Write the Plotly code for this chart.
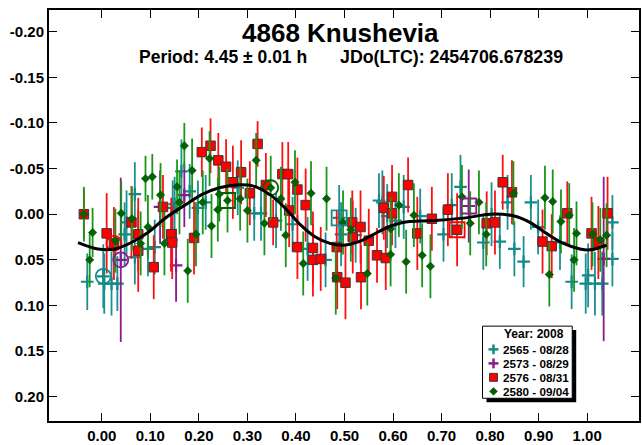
import plotly.graph_objects as go

# ---------------- data (phase, delta-mag, error) ----------------
teal_x = [-0.030, 0.003, 0.005, 0.020, 0.032, 0.047, 0.051, 0.068, 0.068, 0.095, 0.109, 0.146, 0.150,
          0.164, 0.181, 0.198, 0.214, 0.280, 0.314, 0.328, 0.359, 0.393, 0.424, 0.461, 0.489, 0.493,
          0.523, 0.571, 0.578, 0.588, 0.605, 0.622, 0.656, 0.704, 0.721, 0.739, 0.786, 0.803, 0.820,
          0.836, 0.850, 0.869, 0.884, 0.899, 0.944, 0.968, 0.997, 1.002, 1.016, 1.031, 1.052, 1.052]
teal_y = [0.074, 0.068, 0.076, 0.076, 0.076, 0.022, 0.009, -0.022, 0.047, 0.038, 0.036, -0.007, -0.011,
          -0.047, -0.025, -0.007, -0.013, -0.029, -0.001, -0.001, 0.007, 0.011, 0.038, 0.050, 0.004, 0.022,
          0.023, -0.015, -0.013, 0.002, 0.007, -0.008, 0.002, 0.022, -0.010, -0.030, 0.031, 0.000, 0.030,
          -0.013, 0.038, 0.052, -0.013, 0.014, 0.031, 0.074, 0.076, 0.067, 0.076, 0.076, 0.009, 0.049]
teal_e = [0.031, 0.035, 0.033, 0.035, 0.030, 0.035, 0.035, 0.035, 0.030, 0.030, 0.030, 0.030, 0.030,
          0.035, 0.030, 0.030, 0.030, 0.030, 0.030, 0.030, 0.030, 0.030, 0.035, 0.030, 0.036, 0.035,
          0.030, 0.030, 0.035, 0.035, 0.030, 0.035, 0.030, 0.030, 0.035, 0.035, 0.030, 0.035, 0.030,
          0.030, 0.030, 0.028, 0.030, 0.030, 0.030, 0.030, 0.033, 0.035, 0.035, 0.035, 0.030, 0.030]

purple_x = [0.039, 0.120, 0.143, 0.153, 0.170, 0.756, 1.034]
purple_y = [0.050, -0.008, 0.028, 0.056, -0.021, -0.009, 0.049]
purple_e = [0.090, 0.040, 0.035, 0.040, 0.035, 0.040, 0.090]

red_x = [-0.037, 0.010, 0.025, 0.061, 0.075, 0.075, 0.107, 0.126, 0.143, 0.145, 0.190, 0.206, 0.224,
         0.240, 0.256, 0.270, 0.287, 0.305, 0.321, 0.338, 0.353, 0.372, 0.384, 0.386, 0.403, 0.403,
         0.420, 0.435, 0.435, 0.451, 0.484, 0.485, 0.502, 0.516, 0.517, 0.533, 0.534, 0.550, 0.567,
         0.585, 0.581, 0.598, 0.598, 0.631, 0.650, 0.680, 0.713, 0.732, 0.793, 0.810, 0.826, 0.845,
         0.908, 0.927, 0.959, 1.009, 1.023, 1.042]
red_y = [0.000, 0.021, 0.032, 0.009, 0.022, 0.040, 0.058, -0.008, 0.022, 0.031, 0.026, -0.068, -0.075,
         -0.059, -0.052, -0.035, -0.046, -0.023, -0.077, -0.032, 0.009, -0.044, -0.044, -0.004, -0.027, 0.036,
         -0.010, 0.037, 0.050, 0.049, 0.036, 0.069, 0.075, 0.009, 0.025, 0.014, 0.069, 0.029, 0.045,
         0.048, -0.007, -0.019, -0.001, -0.032, 0.021, 0.005, -0.005, 0.017, 0.010, 0.009, -0.035, -0.024,
         0.030, 0.035, -0.001, 0.021, 0.031, -0.001]
red_e = [0.027, 0.044, 0.040, 0.040, 0.040, 0.045, 0.035, 0.035, 0.040, 0.040, 0.040, 0.027, 0.030,
         0.030, 0.030, 0.040, 0.035, 0.035, 0.025, 0.035, 0.025, 0.035, 0.035, 0.040, 0.035, 0.035,
         0.040, 0.040, 0.040, 0.035, 0.040, 0.035, 0.040, 0.035, 0.040, 0.040, 0.035, 0.035, 0.030,
         0.035, 0.035, 0.035, 0.035, 0.030, 0.040, 0.035, 0.040, 0.040, 0.035, 0.035, 0.030, 0.035,
         0.035, 0.035, 0.035, 0.040, 0.040, 0.040]

green_x = [-0.037, -0.025, -0.019, 0.028, 0.040, 0.062, 0.080, 0.090, 0.095, 0.104, 0.121, 0.129, 0.155,
           0.160, 0.170, 0.177, 0.186, 0.194, 0.208, 0.222, 0.226, 0.239, 0.242, 0.259, 0.285, 0.300,
           0.318, 0.335, 0.348, 0.369, 0.379, 0.398, 0.415, 0.431, 0.463, 0.482, 0.497, 0.513, 0.547,
           0.595, 0.595, 0.612, 0.627, 0.643, 0.660, 0.677, 0.742, 0.759, 0.777, 0.792, 0.848, 0.913,
           0.922, 0.929, 0.946, 0.963, 0.973, 0.978, 1.011, 1.027, 1.040]
green_y = [0.000, 0.050, 0.020, 0.029, -0.001, 0.005, 0.032, -0.039, 0.014, -0.041, -0.021, 0.032, -0.030,
           -0.013, -0.075, 0.062, -0.048, 0.022, -0.013, -0.061, 0.013, -0.005, -0.022, -0.015, -0.017, -0.004,
           -0.059, 0.010, -0.029, -0.017, 0.023, -0.035, 0.054, -0.023, -0.017, 0.070, 0.009, 0.017, 0.065,
           0.044, 0.016, -0.010, 0.052, 0.001, 0.045, 0.057, -0.019, 0.010, -0.013, 0.022, -0.023, -0.018,
           0.066, -0.014, 0.008, 0.001, 0.050, 0.021, 0.022, 0.028, 0.023]
green_e = [0.030, 0.030, 0.027, 0.035, 0.035, 0.035, 0.035, 0.025, 0.035, 0.025, 0.035, 0.035, 0.030,
           0.035, 0.025, 0.035, 0.035, 0.035, 0.035, 0.030, 0.035, 0.035, 0.030, 0.035, 0.035, 0.035,
           0.030, 0.035, 0.035, 0.035, 0.035, 0.035, 0.035, 0.035, 0.035, 0.040, 0.035, 0.035, 0.035,
           0.035, 0.035, 0.035, 0.035, 0.035, 0.035, 0.035, 0.035, 0.035, 0.035, 0.035, 0.035, 0.035,
           0.035, 0.035, 0.035, 0.035, 0.035, 0.035, 0.035, 0.035, 0.035]

# session start / end markers (circle = first, square = last)
first_x = [0.003, 0.039, 0.025, 0.348]
first_y = [0.068, 0.050, 0.032, -0.029]
last_x = [0.489, 0.756, 0.732, 0.259]
last_y = [0.004, -0.009, 0.017, -0.015]

# Fourier fit curve
fit_x = [-0.049, -0.008, 0.027, 0.061, 0.095, 0.129, 0.174, 0.208, 0.242, 0.277, 0.311, 0.345, 0.379,
         0.410, 0.440, 0.470, 0.495, 0.530, 0.560, 0.590, 0.620, 0.680, 0.750, 0.800, 0.850, 0.882,
         0.916, 0.951, 0.985, 1.006, 1.040]
fit_y = [0.031, 0.038, 0.038, 0.031, 0.020, 0.005, -0.011, -0.022, -0.029, -0.032, -0.031, -0.022, -0.006,
         0.012, 0.025, 0.032, 0.034, 0.030, 0.022, 0.014, 0.009, 0.007, 0.004, 0.000, 0.002, 0.009,
         0.021, 0.032, 0.038, 0.039, 0.034]

legend_title = "Year: 2008"
session_names = ["2565 - 08/28", "2573 - 08/29", "2576 - 08/31", "2580 - 09/04"]
session_colors = ["#138a8a", "#8b1a8b", "#ff0000", "#006400"]
bar_colors = ["#1a9090", "#8b1a8b", "#ff1010", "#1a961a"]

x_ticks = [0.0, 0.1, 0.2, 0.3, 0.4, 0.5, 0.6, 0.7, 0.8, 0.9, 1.0]
x_ticktext = ["0.00", "0.10", "0.20", "0.30", "0.40", "0.50", "0.60", "0.70", "0.80", "0.90", "1.00"]
y_ticks = [-0.20, -0.15, -0.10, -0.05, 0.0, 0.05, 0.10, 0.15, 0.20]
y_ticktext = ["-0.20", "-0.15", "-0.10", "-0.05", "0.00", "0.05", "0.10", "0.15", "0.20"]

FONT = "Arial, Liberation Sans, sans-serif"

# ---------------- figure ----------------
W, H = 642, 445
ML, MR, MT, MB = 49, 1, 10, 19
PW, PH = W - ML - MR, H - MT - MB

fig = go.Figure()

series = [
    (teal_x, teal_y, teal_e, dict(symbol="cross-thin", size=9, line=dict(color=session_colors[0], width=2.2))),
    (purple_x, purple_y, purple_e, dict(symbol="cross-thin", size=9, line=dict(color=session_colors[1], width=2.2))),
    (red_x, red_y, red_e, dict(symbol="square", size=9.5, color=session_colors[2], line=dict(color="#383838", width=1))),
    (green_x, green_y, green_e, dict(symbol="diamond", size=6.5, color=session_colors[3], line=dict(color="#004d00", width=0.5))),
]
for i, (xs, ys, es, mk) in enumerate(series):
    fig.add_trace(go.Scatter(
        x=xs, y=ys, mode="markers", name=session_names[i],
        marker=mk,
        error_y=dict(type="data", array=es, visible=True, color=bar_colors[i], thickness=1.8, width=0),
    ))

for i in range(4):
    fig.add_trace(go.Scatter(
        x=[first_x[i]], y=[first_y[i]], mode="markers", showlegend=False, hoverinfo="skip",
        marker=dict(symbol="circle-open", size=15, color=session_colors[i],
                    line=dict(color=session_colors[i], width=1.8)),
    ))
    fig.add_trace(go.Scatter(
        x=[last_x[i]], y=[last_y[i]], mode="markers", showlegend=False, hoverinfo="skip",
        marker=dict(symbol="square-open", size=15, color=session_colors[i],
                    line=dict(color=session_colors[i], width=1.8)),
    ))

fig.add_trace(go.Scatter(
    x=fit_x, y=fit_y, mode="lines", showlegend=False, hoverinfo="skip",
    line=dict(color="black", width=3, shape="spline", smoothing=1.0),
))

x0 = (ML - 102) / 487.0
x1 = (W - MR - 102) / 487.0
y_top = (MT - 216.7) / 924.0
y_bot = (H - MB - 216.7) / 924.0

axis_common = dict(
    showline=True, linecolor="black", linewidth=2, mirror="ticks",
    ticks="inside", ticklen=8, tickwidth=1, tickcolor="black",
    showgrid=False, zeroline=False,
    tickfont=dict(family=FONT, size=15, color="black", weight="bold"),
)
fig.update_xaxes(range=[x0, x1], tickvals=x_ticks, ticktext=x_ticktext, **axis_common)
fig.update_yaxes(range=[y_bot, y_top], tickvals=y_ticks, ticktext=y_ticktext, **axis_common)


def px_x(p):
    return (p - ML) / PW


def px_y(p):
    return 1 - (p - MT) / PH


fig.add_annotation(text="4868 Knushevia", x=px_x(341), y=px_y(33), xref="paper", yref="paper",
                   xanchor="center", yanchor="middle", showarrow=False,
                   font=dict(family=FONT, size=26, color="black", weight="bold"))
fig.add_annotation(text="Period: 4.45 ± 0.01 h", x=px_x(137), y=px_y(58), xref="paper", yref="paper",
                   xanchor="left", yanchor="middle", showarrow=False,
                   font=dict(family=FONT, size=17.5, color="black", weight="bold"))
fig.add_annotation(text="JDo(LTC): 2454706.678239", x=px_x(339), y=px_y(58), xref="paper", yref="paper",
                   xanchor="left", yanchor="middle", showarrow=False,
                   font=dict(family=FONT, size=17.8, color="black", weight="bold"))

# ---------------- legend box (drawn as a key panel) ----------------
LB_L, LB_R, LB_T, LB_B = 484, 574, 330, 403
row_y = [353.5, 367.7, 381.8, 396.0]
key_x = 495
shapes = []
shapes.append(dict(type="rect", xref="paper", yref="paper",
                   x0=px_x(LB_L + 4), x1=px_x(LB_R + 4), y0=px_y(LB_B + 4), y1=px_y(LB_T + 4),
                   fillcolor="black", line=dict(width=0), layer="above"))
shapes.append(dict(type="rect", xref="paper", yref="paper",
                   x0=px_x(LB_L), x1=px_x(LB_R), y0=px_y(LB_B), y1=px_y(LB_T),
                   fillcolor="white", line=dict(color="black", width=1), layer="above"))
for i in range(2):
    cy = row_y[i]
    shapes.append(dict(type="line", xref="paper", yref="paper",
                       x0=px_x(key_x - 5), x1=px_x(key_x + 5), y0=px_y(cy), y1=px_y(cy),
                       line=dict(color=session_colors[i], width=2.5), layer="above"))
    shapes.append(dict(type="line", xref="paper", yref="paper",
                       x0=px_x(key_x), x1=px_x(key_x), y0=px_y(cy - 5), y1=px_y(cy + 5),
                       line=dict(color=session_colors[i], width=2.5), layer="above"))
cy = row_y[2]
shapes.append(dict(type="rect", xref="paper", yref="paper",
                   x0=px_x(key_x - 4), x1=px_x(key_x + 4), y0=px_y(cy + 4), y1=px_y(cy - 4),
                   fillcolor=session_colors[2], line=dict(color="#383838", width=1), layer="above"))
cy = row_y[3]
d = 4
path = "M {} {} L {} {} L {} {} L {} {} Z".format(
    px_x(key_x - d), px_y(cy), px_x(key_x), px_y(cy - d), px_x(key_x + d), px_y(cy), px_x(key_x), px_y(cy + d))
shapes.append(dict(type="path", xref="paper", yref="paper", path=path,
                   fillcolor=session_colors[3], line=dict(color="#004d00", width=0.5), layer="above"))

fig.add_annotation(text=legend_title, x=px_x(536), y=px_y(337.5), xref="paper", yref="paper",
                   xanchor="center", yanchor="middle", showarrow=False,
                   font=dict(family=FONT, size=12, color="black", weight="bold"))
for i in range(4):
    fig.add_annotation(text=session_names[i], x=px_x(502.5), y=px_y(row_y[i]), xref="paper", yref="paper",
                       xanchor="left", yanchor="middle", showarrow=False,
                       font=dict(family=FONT, size=11.7, color="black", weight="bold"))

fig.update_layout(
    width=W, height=H,
    margin=dict(l=ML, r=MR, t=MT, b=MB),
    paper_bgcolor="white", plot_bgcolor="white",
    font=dict(family=FONT, color="black"),
    showlegend=False,
    shapes=shapes,
)

fig.write_html("out.html")
